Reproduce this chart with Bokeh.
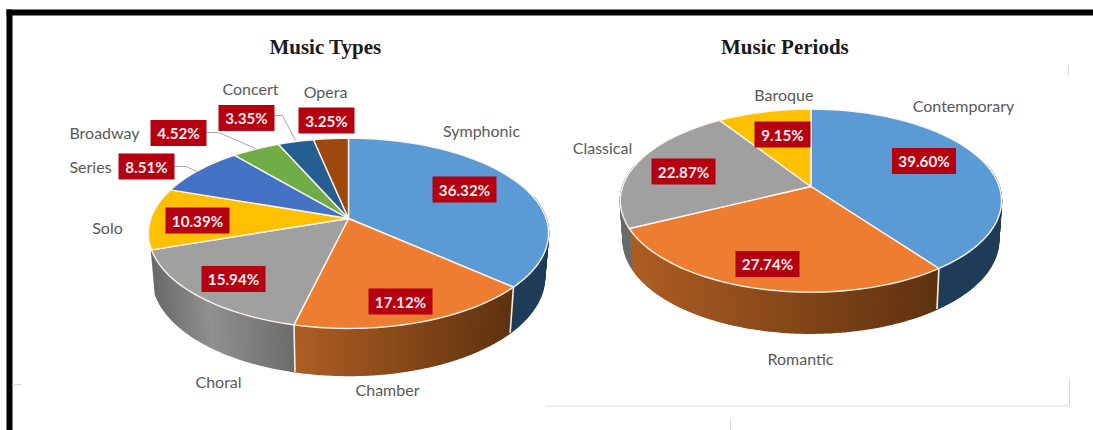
import numpy as np
from bokeh.plotting import figure
from bokeh.models import Range1d
from bokeh.core.properties import value
from bokeh.embed import file_html
from bokeh.resources import INLINE

# ---------- data ----------
types_names = ["Symphonic", "Chamber", "Choral", "Solo", "Series", "Broadway", "Concert", "Opera"]
types_values = [36.32, 17.12, 15.94, 10.39, 8.51, 4.52, 3.35, 3.25]
periods_names = ["Contemporary", "Romantic", "Classical", "Baroque"]
periods_values = [39.60, 27.74, 22.87, 9.15]

# ---------- styles ----------
types_colors = ["#5B9BD5", "#ED7D31", "#A0A0A0", "#FFC000", "#4472C4", "#70AD47", "#255E91", "#9E480E"]
periods_colors = ["#5B9BD5", "#ED7D31", "#A0A0A0", "#FFC000"]
wall_stops = {
    "#5B9BD5": [(0.0, "#1F3C58"), (1.0, "#1F3C58")],
    "#ED7D31": [(0.0, "#AE5E24"), (0.45, "#8A4A1A"), (1.0, "#5E3210")],
    "#A0A0A0": [(0.0, "#6A6A6A"), (0.4, "#909090"), (1.0, "#6C6C6C")],
}
LABEL = "#595959"
BOX = "#B40010"
VALTXT = "#FBECEC"

# ---------- layout (page pixels) ----------
types_geom = dict(cx=348.0, cy=218.0, A=197.6, B=92.8, k=0.156, d_side=43.0, d_front=47.0, shrink=0.98)
periods_geom = dict(cx=810.4, cy=186.0, A=188.3, B=89.3, k=0.155, d_side=39.0, d_front=41.0, shrink=0.985)

types_label_xy = [(481, 129.5), (387, 388.5), (218, 380.5), (107, 226.5), (90, 165.5), (104, 131.5), (250, 87.5), (325, 90.5)]
types_box_xy = [(464, 189, 64, 26), (400, 301, 64, 26), (233, 278.5, 64, 26), (197, 220, 64, 26),
                (146, 166, 56, 26), (178, 132.5, 56, 26), (246, 117.5, 56, 26), (326, 120, 56, 26)]
periods_label_xy = [(963, 104.5), (800, 357.5), (602, 146.5), (783.4, 93.5)]
periods_box_xy = [(923.5, 160.5, 64, 26), (767, 263.5, 64, 26), (683, 171, 64, 26), (782, 134, 56, 26)]
leaders = [([174, 186, 196], [166, 166, 171]),
           ([206, 218, 255], [132, 132, 148]),
           ([274, 282, 295], [115, 115, 140])]
faint_lines = [([545, 1069], [405.5, 405.5]), ([1069, 1069], [377, 405.5]), ([1068, 1068], [65, 75]),
               ([730, 730], [417, 430]), ([12, 21], [384, 384])]

p = figure(width=1093, height=430, output_backend="svg", toolbar_location=None,
           x_range=Range1d(0, 1093), y_range=Range1d(430, 0),
           min_border=0, outline_line_color=None, background_fill_color="white",
           border_fill_color="white", margin=(0, 0, 0, 0))
p.axis.visible = False
p.grid.visible = False


def hex2rgb(h):
    return np.array([int(h[i:i + 2], 16) for i in (1, 3, 5)], float)


def grad(stops, t):
    for (t0, c0), (t1, c1) in zip(stops, stops[1:]):
        if t <= t1:
            f = (t - t0) / max(t1 - t0, 1e-6)
            c = hex2rgb(c0) * (1 - f) + hex2rgb(c1) * f
            return "#%02x%02x%02x" % tuple(int(round(x)) for x in c)
    return stops[-1][1]


def top_pt(g, th):
    u, v = np.sin(th), np.cos(th)
    w = 1 + g["k"] * v
    return g["cx"] + g["A"] * u / w, g["cy"] - g["B"] * v / w


def bot_pt(g, th):
    x, y = top_pt(g, th)
    v = np.cos(th)
    dy = g["d_side"] + (g["d_front"] - g["d_side"]) * np.clip(-v, 0, 1)
    return g["cx"] + (x - g["cx"]) * g["shrink"], y + dy


def draw_pie(vals, cols, g):
    fr = np.array(vals) / sum(vals)
    edges = np.concatenate([[0], np.cumsum(fr)]) * 2 * np.pi
    # side walls first
    wx, wy, wc = [], [], []
    seams = []
    for i, c in enumerate(cols):
        if c not in wall_stops:
            continue
        a0, a1 = edges[i], edges[i + 1]
        lo, hi = max(a0, np.pi / 2 - 0.25), min(a1, 3 * np.pi / 2 + 0.25)
        if hi <= lo:
            continue
        n = max(3, int((hi - lo) * 50))
        ts = np.linspace(lo, hi, n + 1)
        xa = top_pt(g, ts[0])[0]
        xb = top_pt(g, ts[-1])[0]
        stops = wall_stops[c]
        for t0, t1 in zip(ts, ts[1:]):
            x00, y00 = top_pt(g, t0)
            x01, y01 = top_pt(g, t1)
            x10, y10 = bot_pt(g, t0)
            x11, y11 = bot_pt(g, t1)
            wx.append([x00, x01, x11, x10])
            wy.append([y00, y01, y11, y10])
            pos = ((x00 + x01) / 2 - min(xa, xb)) / max(abs(xb - xa), 1)
            wc.append(grad(stops, float(np.clip(pos, 0, 1))))
    p.patches(wx, wy, fill_color=wc, line_color=wc, line_width=1.5)
    for e in edges[1:-1]:
        if np.cos(e) < -0.1:
            x0, y0 = top_pt(g, e)
            x1, y1 = bot_pt(g, e)
            if g["cx"] - g["A"] * 0.93 < x0 < g["cx"] + g["A"] * 0.93:
                seams.append(([x0, x1], [y0, y1]))
    for sx, sy in seams:
        p.line(sx, sy, line_color="#F7F1E6", line_width=1.6)
    # top face
    tx, ty = [], []
    for i in range(len(cols)):
        ts = np.linspace(edges[i], edges[i + 1], max(4, int(fr[i] * 200)))
        pts = [top_pt(g, t) for t in ts]
        tx.append([g["cx"]] + [q[0] for q in pts])
        ty.append([g["cy"]] + [q[1] for q in pts])
    p.patches(tx, ty, fill_color=cols, line_color="#FDF3EA", line_width=1.4, line_join="round")


def draw_labels(names, vals, label_xy, box_xy):
    p.text([q[0] for q in label_xy], [q[1] for q in label_xy], text=names,
           text_font=value("Lato"), text_font_size="16px", text_color=LABEL,
           text_align="center", text_baseline="middle")
    xs = np.array([b[0] for b in box_xy], float)
    ys = np.array([b[1] for b in box_xy], float)
    ws = np.array([b[2] for b in box_xy], float)
    hs = np.array([b[3] for b in box_xy], float)
    p.quad(left=xs - ws / 2, right=xs + ws / 2, top=ys - hs / 2, bottom=ys + hs / 2,
           fill_color=BOX, line_color=None)
    p.text(xs, ys, text=["%.2f%%" % v for v in vals], text_font=value("Lato"),
           text_font_size="15.2px", text_font_style="bold", text_color=VALTXT,
           text_align="center", text_baseline="middle")


# frame
p.quad(left=[6, 6], right=[12, 1093], top=[9, 9], bottom=[430, 15], fill_color="black", line_color=None)
for lx, ly in faint_lines:
    p.line(lx, ly, line_color="#D9D9D9", line_width=1)

draw_pie(types_values, types_colors, types_geom)
draw_pie(periods_values, periods_colors, periods_geom)
for lx, ly in leaders:
    p.line(lx, ly, line_color="#A6A6A6", line_width=1)
draw_labels(types_names, types_values, types_label_xy, types_box_xy)
draw_labels(periods_names, periods_values, periods_label_xy, periods_box_xy)

p.text([325, 784.4], [46.5, 46.5], text=["Music Types", "Music Periods"], text_font=value("Liberation Serif"),
       text_font_size="21px", text_font_style="bold", text_color="#1A1A1A",
       text_align="center", text_baseline="middle")

open("out.html", "w").write(file_html(p, INLINE))
